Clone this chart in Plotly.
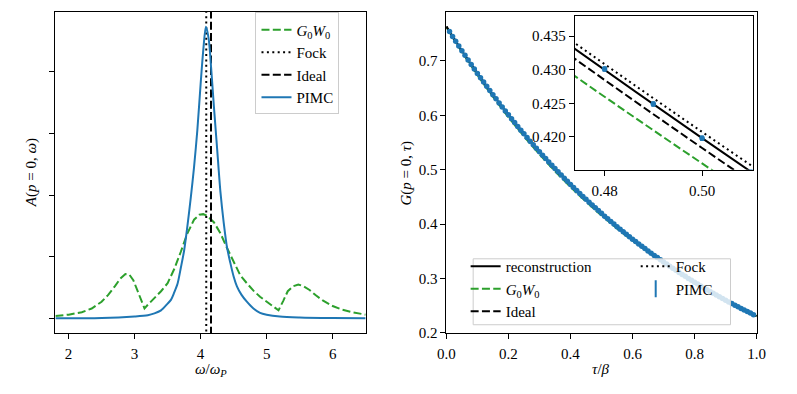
import numpy as np
import plotly.graph_objects as go

# ---- left panel: spectral function A(p=0, omega) ----
omega_pimc = [1.80, 2.50, 3.00, 3.20, 3.30, 3.40, 3.50, 3.55, 3.60, 3.65, 3.70, 3.75,
              3.80, 3.85, 3.90, 3.95, 4.00, 4.04, 4.08, 4.12, 4.16, 4.20, 4.25, 4.30,
              4.35, 4.40, 4.45, 4.50, 4.55, 4.62, 4.70, 4.80, 4.90, 5.00, 5.20, 5.50,
              6.00, 6.50]
A_pimc = [0.00, 0.005, 0.03, 0.05, 0.08, 0.13, 0.24, 0.30, 0.42, 0.56, 0.82, 1.10,
          1.50, 1.95, 2.45, 3.05, 3.80, 4.35, 4.73, 4.55, 4.05, 3.45, 2.75, 2.05,
          1.55, 1.15, 0.90, 0.68, 0.52, 0.38, 0.27, 0.16, 0.09, 0.06, 0.03, 0.015,
          0.005, 0.00]

omega_g0w0 = [1.80, 2.00, 2.20, 2.35, 2.50, 2.60, 2.70, 2.78, 2.86, 2.92, 2.98, 3.05,
              3.10, 3.15, 3.20, 3.30, 3.40, 3.50, 3.60, 3.70, 3.80, 3.90, 3.98, 4.04,
              4.10, 4.20, 4.30, 4.40, 4.50, 4.60, 4.70, 4.80, 4.90, 5.00, 5.10, 5.18,
              5.25, 5.32, 5.40, 5.48, 5.56, 5.65, 5.75, 5.85, 6.00, 6.15, 6.30, 6.50]
A_g0w0 = [0.04, 0.06, 0.10, 0.16, 0.27, 0.38, 0.52, 0.64, 0.72, 0.71, 0.62, 0.43,
          0.28, 0.16, 0.22, 0.33, 0.44, 0.57, 0.80, 1.08, 1.38, 1.60, 1.68, 1.69,
          1.66, 1.56, 1.38, 1.14, 0.91, 0.70, 0.57, 0.45, 0.35, 0.27, 0.20, 0.13,
          0.28, 0.44, 0.52, 0.55, 0.52, 0.46, 0.37, 0.29, 0.20, 0.14, 0.10, 0.06]

omega_fock = 4.085
omega_ideal = 4.157

# ---- right panel: G(p=0, tau) ----
tau_pimc = np.round(np.linspace(0.01, 0.99, 99), 2)
G_pimc = [0.7539, 0.7450, 0.7361, 0.7274, 0.7187, 0.7102, 0.7018, 0.6934, 0.6852,
          0.6770, 0.6690, 0.6610, 0.6532, 0.6454, 0.6378, 0.6302, 0.6227, 0.6153, 0.6080,
          0.6008, 0.5936, 0.5866, 0.5796, 0.5727, 0.5659, 0.5592, 0.5525, 0.5460, 0.5395,
          0.5331, 0.5268, 0.5205, 0.5143, 0.5082, 0.5022, 0.4962, 0.4903, 0.4845, 0.4787,
          0.4730, 0.4674, 0.4618, 0.4564, 0.4509, 0.4456, 0.4403, 0.4351, 0.4301, 0.4249,
          0.4198, 0.4147, 0.4098, 0.4049, 0.4001, 0.3954, 0.3907, 0.3860, 0.3815, 0.3769,
          0.3724, 0.3680, 0.3636, 0.3593, 0.3551, 0.3508, 0.3467, 0.3425, 0.3385, 0.3345,
          0.3305, 0.3266, 0.3227, 0.3188, 0.3151, 0.3113, 0.3076, 0.3040, 0.3003, 0.2968,
          0.2933, 0.2898, 0.2863, 0.2829, 0.2796, 0.2762, 0.2730, 0.2697, 0.2665, 0.2633,
          0.2602, 0.2571, 0.2541, 0.2510, 0.2481, 0.2451, 0.2422, 0.2393, 0.2365, 0.2337]
G_pimc_err = 0.0003

tau_model = [0.00, 0.05, 0.10, 0.15, 0.20, 0.25, 0.30, 0.35, 0.40, 0.45, 0.50,
             0.55, 0.60, 0.65, 0.70, 0.75, 0.80, 0.85, 0.90, 0.95, 1.00]
G_recon = [0.76300, 0.71874, 0.67704, 0.63776, 0.60076, 0.56591, 0.53308, 0.50215,
           0.47302, 0.44565, 0.41980, 0.39538, 0.37244, 0.35083, 0.33048, 0.31131,
           0.29325, 0.27624, 0.26021, 0.24511, 0.23089]
G_g0w0 = [0.76200, 0.71674, 0.67424, 0.63426, 0.59676, 0.56151, 0.52848, 0.49755,
          0.46852, 0.44138, 0.41603, 0.39218, 0.36974, 0.34863, 0.32878, 0.31011,
          0.29245, 0.27584, 0.26011, 0.24521, 0.23109]
G_ideal = [0.76280, 0.71834, 0.67644, 0.63696, 0.59976, 0.56471, 0.53178, 0.50075,
           0.47162, 0.44418, 0.41833, 0.39398, 0.37114, 0.34963, 0.32938, 0.31031,
           0.29235, 0.27544, 0.25961, 0.24471, 0.23069]
G_fock = [0.76320, 0.71904, 0.67744, 0.63826, 0.60136, 0.56661, 0.53388, 0.50295,
          0.47387, 0.44648, 0.42073, 0.39648, 0.37344, 0.35173, 0.33128, 0.31201,
          0.29385, 0.27674, 0.26061, 0.24541, 0.23109]

W, H = 797, 394
FONT = "Liberation Serif"
FS = 15
BLUE, GREEN = "#1f77b4", "#2ca02c"
DASH = "8px,3.3px"
DOT = "2px,3.4px"


def fx(p):
    return p / W


def fy(p):
    return 1 - p / H


fig = go.Figure()

# left panel
fig.add_trace(go.Scatter(x=omega_g0w0, y=A_g0w0, mode="lines", name="<i>G</i><sub>0</sub><i>W</i><sub>0</sub>",
                         line=dict(color=GREEN, width=2, dash=DASH), legend="legend"))
fig.add_trace(go.Scatter(x=[omega_fock, omega_fock], y=[-1, 6], mode="lines", name="Fock",
                         line=dict(color="black", width=2, dash=DOT), legend="legend"))
fig.add_trace(go.Scatter(x=[omega_ideal, omega_ideal], y=[-1, 6], mode="lines", name="Ideal",
                         line=dict(color="black", width=2, dash=DASH), legend="legend"))
fig.add_trace(go.Scatter(x=omega_pimc, y=A_pimc, mode="lines", name="PIMC",
                         line=dict(color=BLUE, width=2, shape="spline", smoothing=0.8), legend="legend"))

# right panel + inset
for ax, show in (("2", True), ("3", False)):
    fig.add_trace(go.Scatter(x=tau_model, y=G_recon, mode="lines", name="reconstruction",
                             line=dict(color="black", width=2, shape="spline"),
                             xaxis="x" + ax, yaxis="y" + ax, showlegend=show, legend="legend2"))
    fig.add_trace(go.Scatter(x=tau_model, y=G_g0w0, mode="lines",
                             name="<i>G</i><sub>0</sub><i>W</i><sub>0</sub>",
                             line=dict(color=GREEN, width=2, dash=DASH, shape="spline"),
                             xaxis="x" + ax, yaxis="y" + ax, showlegend=show, legend="legend2"))
    fig.add_trace(go.Scatter(x=tau_model, y=G_ideal, mode="lines", name="Ideal",
                             line=dict(color="black", width=2, dash=DASH, shape="spline"),
                             xaxis="x" + ax, yaxis="y" + ax, showlegend=show, legend="legend2"))
    fig.add_trace(go.Scatter(x=tau_model, y=G_fock, mode="lines", name="Fock",
                             line=dict(color="black", width=2, dash=DOT, shape="spline"),
                             xaxis="x" + ax, yaxis="y" + ax, showlegend=show, legend="legend3"))
    fig.add_trace(go.Scatter(x=tau_pimc, y=G_pimc, mode="markers", name="PIMC",
                             marker=dict(color=BLUE, size=5.5),
                             error_y=dict(type="constant", value=G_pimc_err, color=BLUE,
                                          thickness=1.5, width=2),
                             xaxis="x" + ax, yaxis="y" + ax, showlegend=False))

# legend-only glyph imitating the errorbar symbol
fig.add_trace(go.Scatter(x=[None], y=[None], mode="markers", name="PIMC",
                         marker=dict(symbol="line-ns", size=12, color=BLUE,
                                     line=dict(color=BLUE, width=2)),
                         xaxis="x2", yaxis="y2", legend="legend3"))

axis_common = dict(showline=True, mirror=True, linecolor="black", linewidth=1,
                   ticks="outside", ticklen=5, tickwidth=1, tickcolor="black",
                   showgrid=False, zeroline=False,
                   tickfont=dict(family=FONT, size=FS, color="black"))

legend_common = dict(font=dict(family=FONT, size=FS, color="black"),
                     xanchor="left", yanchor="top", tracegroupgap=0)

title_font = dict(family=FONT, size=FS, color="black")

fig.update_layout(
    width=W, height=H,
    margin=dict(l=0, r=0, t=0, b=0),
    paper_bgcolor="white", plot_bgcolor="white",
    font=dict(family=FONT, size=FS, color="black"),
    xaxis=dict(domain=[fx(39.3), fx(356.7)], range=[1.8, 6.5], tickvals=[2, 3, 4, 5, 6],
               anchor="y", ticklabelstandoff=2, **axis_common),
    yaxis=dict(domain=[fy(331.7), fy(4)], range=[-0.237, 4.97], tickvals=[0, 1, 2, 3, 4],
               showticklabels=False, anchor="x", **axis_common),
    xaxis2=dict(domain=[fx(439.3), fx(756.7)], range=[0, 1], tickvals=[0, 0.2, 0.4, 0.6, 0.8, 1.0],
                tickformat=".1f", anchor="y2", ticklabelstandoff=2, **axis_common),
    yaxis2=dict(domain=[fy(331.7), fy(4)], range=[0.2, 0.79], tickvals=[0.2, 0.3, 0.4, 0.5, 0.6, 0.7],
                tickformat=".1f", anchor="x2", **axis_common),
    xaxis3=dict(domain=[fx(570.7), fx(753.3)], range=[0.4739, 0.5105], tickvals=[0.48, 0.50],
                tickformat=".2f", anchor="y3", ticklabelstandoff=2, **axis_common),
    yaxis3=dict(domain=[fy(165), fy(8.3)], range=[0.4151, 0.4380],
                tickvals=[0.420, 0.425, 0.430, 0.435], tickformat=".3f", anchor="x3", **axis_common),
    legend=dict(x=fx(244), y=fy(4.5), bgcolor="rgba(255,255,255,0.8)",
                bordercolor="#cccccc", borderwidth=1, **legend_common),
    legend2=dict(x=fx(459), y=fy(247), bgcolor="rgba(0,0,0,0)", borderwidth=0, **legend_common),
    legend3=dict(x=fx(633), y=fy(247), bgcolor="rgba(0,0,0,0)", borderwidth=0, **legend_common),
    shapes=[dict(type="rect", xref="paper", yref="paper", layer="above",
                 x0=fx(466.7), x1=fx(730), y0=fy(323.3), y1=fy(256),
                 line=dict(color="#cccccc", width=1), fillcolor="rgba(255,255,255,0.8)")],
    annotations=[
        dict(text="<i>A</i>(<i>p</i> = 0, <i>ω</i>)", x=fx(15), y=fy(168), xref="paper", yref="paper",
             xanchor="center", yanchor="middle", textangle=-90, showarrow=False, font=title_font),
        dict(text="<i>G</i>(<i>p</i> = 0, <i>τ</i>)", x=fx(399), y=fy(168), xref="paper", yref="paper",
             xanchor="center", yanchor="middle", textangle=-90, showarrow=False, font=title_font),
        dict(text="<i>ω</i>/<i>ω</i><sub><i>P</i></sub>", x=fx(198), y=fy(370), xref="paper", yref="paper",
             xanchor="center", yanchor="middle", showarrow=False, font=title_font),
        dict(text="<i>τ</i>/<i>β</i>", x=fx(598), y=fy(368), xref="paper", yref="paper",
             xanchor="center", yanchor="middle", showarrow=False, font=title_font),
    ],
)

fig.write_html("out.html")
